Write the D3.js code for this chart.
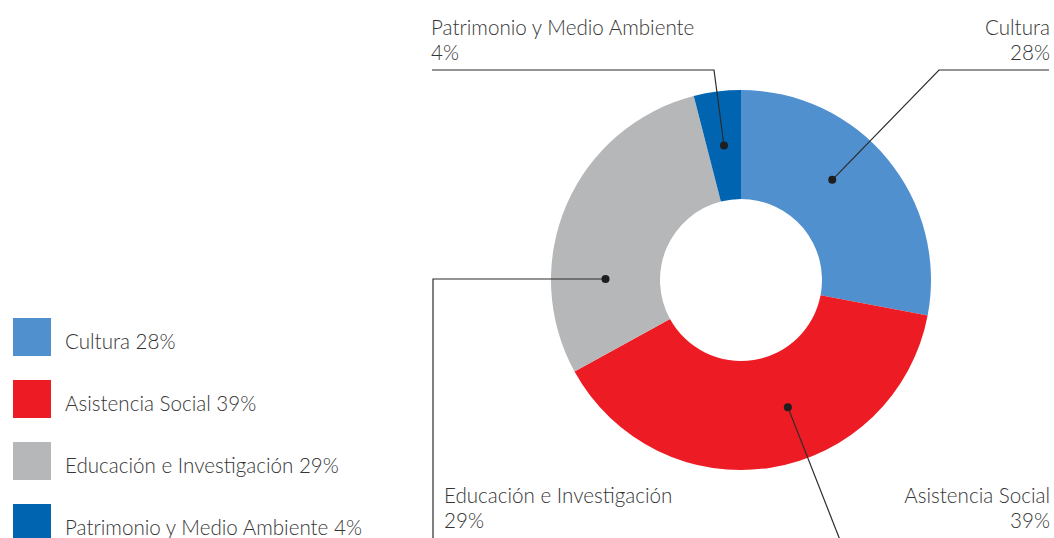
<!DOCTYPE html>
<html>
<head>
<meta charset="utf-8">
<script src="https://cdn.jsdelivr.net/npm/d3@7"></script>
<style>
  html, body { margin: 0; padding: 0; background: #fff; }
  svg text { font-family: Lato, "Open Sans", sans-serif; font-weight: 300; fill: #363636; }
</style>
</head>
<body>
<div id="main"></div>
<script>
// data
const categories = ["Cultura", "Asistencia Social", "Educación e Investigación", "Patrimonio y Medio Ambiente"];
const shares = [28, 39, 29, 4];
const colors = ["#5190ce", "#ed1c24", "#b6b7b9", "#0064b0"];

const width = 1054, height = 538;
const cx = 741, cy = 280;
const outerR = 190, innerR = 81;
const fontSize = 20.6;

const svg = d3.select('#main')
    .append('svg')
    .attr('width', width)
    .attr('height', height);

const rows = categories.map((c, i) => ({ name: c, value: shares[i], color: colors[i] }));

const pie = d3.pie().value(d => d.value).sort(null);
const arc = d3.arc().innerRadius(innerR).outerRadius(outerR);
const arcs = pie(rows);

const g = svg.append('g').attr('transform', `translate(${cx} ${cy})`);

g.selectAll('path')
    .data(arcs)
    .enter()
    .append('path')
    .attr('d', arc)
    .attr('fill', d => d.data.color);

// leader lines: dot sits on mid radius, at a fraction through the slice
const midR = (innerR + outerR) / 2;
const labelLayout = [
    { t: 0.42, elbow: [939, 70], end: [1049, 70], tx: 1050, ty: 35, anchor: 'end' },
    { t: 0.42, elbow: null, end: [840, 540], tx: 1050, ty: 503, anchor: 'end' },
    { t: 0.28, elbow: [433, null], end: [433, 540], tx: 444, ty: 503, anchor: 'start' },
    { t: 0.5, elbow: [714, 70], end: [432, 70], tx: 431, ty: 35, anchor: 'start' }
];

arcs.forEach((a, i) => {
    const L = labelLayout[i];
    const ang = a.startAngle + (a.endAngle - a.startAngle) * L.t;
    const dx = cx + midR * Math.sin(ang);
    const dy = cy - midR * Math.cos(ang);

    let pts = [[dx, dy]];
    if (L.elbow) pts.push([L.elbow[0], L.elbow[1] == null ? dy : L.elbow[1]]);
    pts.push(L.end);

    svg.append('path')
        .attr('d', d3.line()(pts))
        .attr('fill', 'none')
        .attr('stroke', '#2b2b2b')
        .attr('stroke-width', 1.2);

    svg.append('circle')
        .attr('cx', dx)
        .attr('cy', dy)
        .attr('r', 4)
        .attr('fill', '#1e1e1e');

    const txt = svg.append('text')
        .attr('x', L.tx)
        .attr('y', L.ty)
        .attr('text-anchor', L.anchor)
        .style('font-size', fontSize + 'px');
    txt.append('tspan').attr('x', L.tx).text(a.data.name);
    txt.append('tspan').attr('x', L.tx).attr('dy', 25).text(a.data.value + '%');
});

// legend
const legend = svg.append('g').attr('transform', 'translate(13 318)');
const item = legend.selectAll('g')
    .data(rows)
    .enter()
    .append('g')
    .attr('transform', (d, i) => `translate(0 ${i * 62})`);

item.append('rect')
    .attr('width', 38)
    .attr('height', 38)
    .attr('fill', d => d.color);

item.append('text')
    .attr('x', 52)
    .attr('y', 31)
    .style('font-size', fontSize + 'px')
    .text(d => `${d.name} ${d.value}%`);
</script>
</body>
</html>
